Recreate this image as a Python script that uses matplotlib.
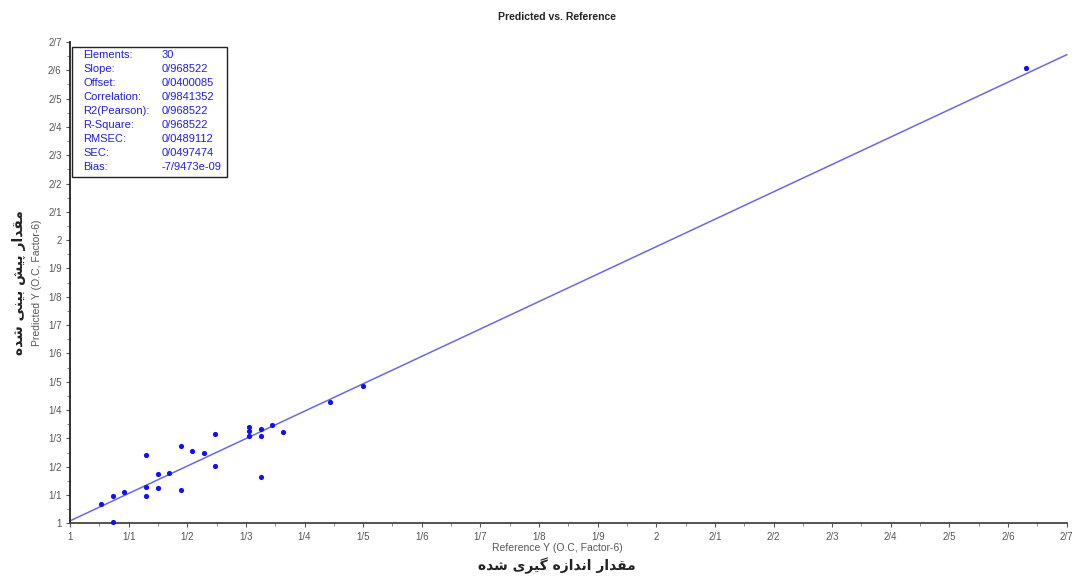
import matplotlib
matplotlib.use("Agg")
import matplotlib.pyplot as plt
import numpy as np
from matplotlib.ticker import MultipleLocator, FixedLocator

# ---- data ----
ref_x = [1.053, 1.073, 1.073, 1.092, 1.130, 1.130, 1.130, 1.150, 1.150, 1.169,
         1.189, 1.189, 1.208, 1.229, 1.248, 1.248, 1.306, 1.306, 1.306, 1.325,
         1.325, 1.325, 1.345, 1.363, 1.443, 1.500, 2.631]
pred_y = [1.067, 1.097, 1.005, 1.111, 1.241, 1.127, 1.097, 1.173, 1.126, 1.178,
          1.272, 1.119, 1.257, 1.247, 1.317, 1.204, 1.339, 1.326, 1.310, 1.334,
          1.307, 1.165, 1.346, 1.324, 1.430, 1.485, 2.609]
slope = 0.968522
offset = 0.0400085
stat_names = ["Elements:", "Slope:", "Offset:", "Correlation:", "R2(Pearson):",
              "R-Square:", "RMSEC:", "SEC:", "Bias:"]
stat_values = ["30", "0/968522", "0/0400085", "0/9841352", "0/968522",
               "0/968522", "0/0489112", "0/0497474", "-7/9473e-09"]
tick_values = [round(1 + 0.1 * i, 1) for i in range(18)]
tick_labels = [("%.1f" % v).replace(".0", "").replace(".", "/") for v in tick_values]

# Persian labels in visual order (presentation forms)
xlabel_fa = ("\uFEE9\uFEAA\uFEB7 \uFBFC\uFEAE\uFBFF\uFB94 "
             "\uFEE9\uFEAF\uFE8D\uFEAA\uFEE7\uFE8D \uFEAD\uFE8D\uFEAA\uFED8\uFEE3")
ylabel_fa = ("\uFEE9\uFEAA\uFEB7 \uFBFD\uFEE8\uFBFF\uFE91 "
             "\uFEB6\uFBFF\uFB58 \uFEAD\uFE8D\uFEAA\uFED8\uFEE3")

W, H = 1076, 576
fig = plt.figure(figsize=(W / 100, H / 100), dpi=100)
fig.patch.set_facecolor("white")
L, R, T, B = 70, 1066.7, 42, 523.3
ax = fig.add_axes([L / W, 1 - B / H, (R - L) / W, (B - T) / H])

ax.set_xlim(1, 2.7)
ax.set_ylim(1, 2.7)
for s in ["top", "right"]:
    ax.spines[s].set_visible(False)
ax.spines["left"].set_color("#222222")
ax.spines["bottom"].set_color("#444444")
ax.spines["left"].set_linewidth(1.3)
ax.spines["bottom"].set_linewidth(1.3)

xl = np.array([1.0, 2.7])
ax.plot(xl, slope * xl + offset, color="#6a6ae0", lw=1.1, zorder=2, clip_on=False)
ax.scatter(ref_x, pred_y, s=14, color="#1010f0", zorder=3, clip_on=False, linewidths=0)

ax.xaxis.set_major_locator(FixedLocator(tick_values))
ax.yaxis.set_major_locator(FixedLocator(tick_values))
ax.set_xticklabels(tick_labels)
ax.set_yticklabels(tick_labels)
ax.xaxis.set_minor_locator(MultipleLocator(0.05))
ax.yaxis.set_minor_locator(MultipleLocator(0.05))
ax.tick_params(which="major", length=3, width=0.8, color="#555555",
               labelsize=7, labelcolor="#555555", pad=3)
ax.tick_params(which="minor", length=2, width=0.6, color="#777777")
for lab in ax.get_xticklabels() + ax.get_yticklabels():
    lab.set_fontfamily("Liberation Sans")

def fx(px):
    return px / W

def fy(py):
    return 1 - py / H

fig.text(fx(557), fy(17), "Predicted vs. Reference", ha="center", va="center",
         fontsize=7.5, fontweight="bold", family="Liberation Sans", color="#222222")
fig.text(fx(557), fy(548), "Reference Y (O.C, Factor-6)", ha="center", va="center",
         fontsize=7.5, family="Liberation Sans", color="#555555")
fig.text(fx(557), fy(566), xlabel_fa, ha="center", va="center",
         fontsize=10, fontweight="bold", family="DejaVu Sans", color="#222222")
fig.text(fx(37), fy(283), "Predicted Y (O.C, Factor-6)", ha="center", va="center",
         rotation=90, fontsize=7.5, family="Liberation Sans", color="#555555")
fig.text(fx(19), fy(283), ylabel_fa, ha="center", va="center", rotation=90,
         fontsize=10, fontweight="bold", family="DejaVu Sans", color="#222222")

# stats box
bx0, by0, bx1, by1 = 71.7, 46.7, 226.7, 176.7
box = plt.Rectangle((fx(bx0), fy(by1)), fx(bx1) - fx(bx0), fy(by0) - fy(by1),
                    transform=fig.transFigure, fill=True, facecolor="white",
                    edgecolor="#222222", lw=1.0, zorder=5)
fig.add_artist(box)
for i, (n, v) in enumerate(zip(stat_names, stat_values)):
    yy = 55 + i * 13.95
    fig.text(fx(83), fy(yy), n, ha="left", va="center", fontsize=8,
             family="Liberation Sans", color="#2020e0", zorder=6)
    fig.text(fx(161.5), fy(yy), v, ha="left", va="center", fontsize=8,
             family="Liberation Sans", color="#2020e0", zorder=6)

fig.savefig("out.png", dpi=100, facecolor="white")
